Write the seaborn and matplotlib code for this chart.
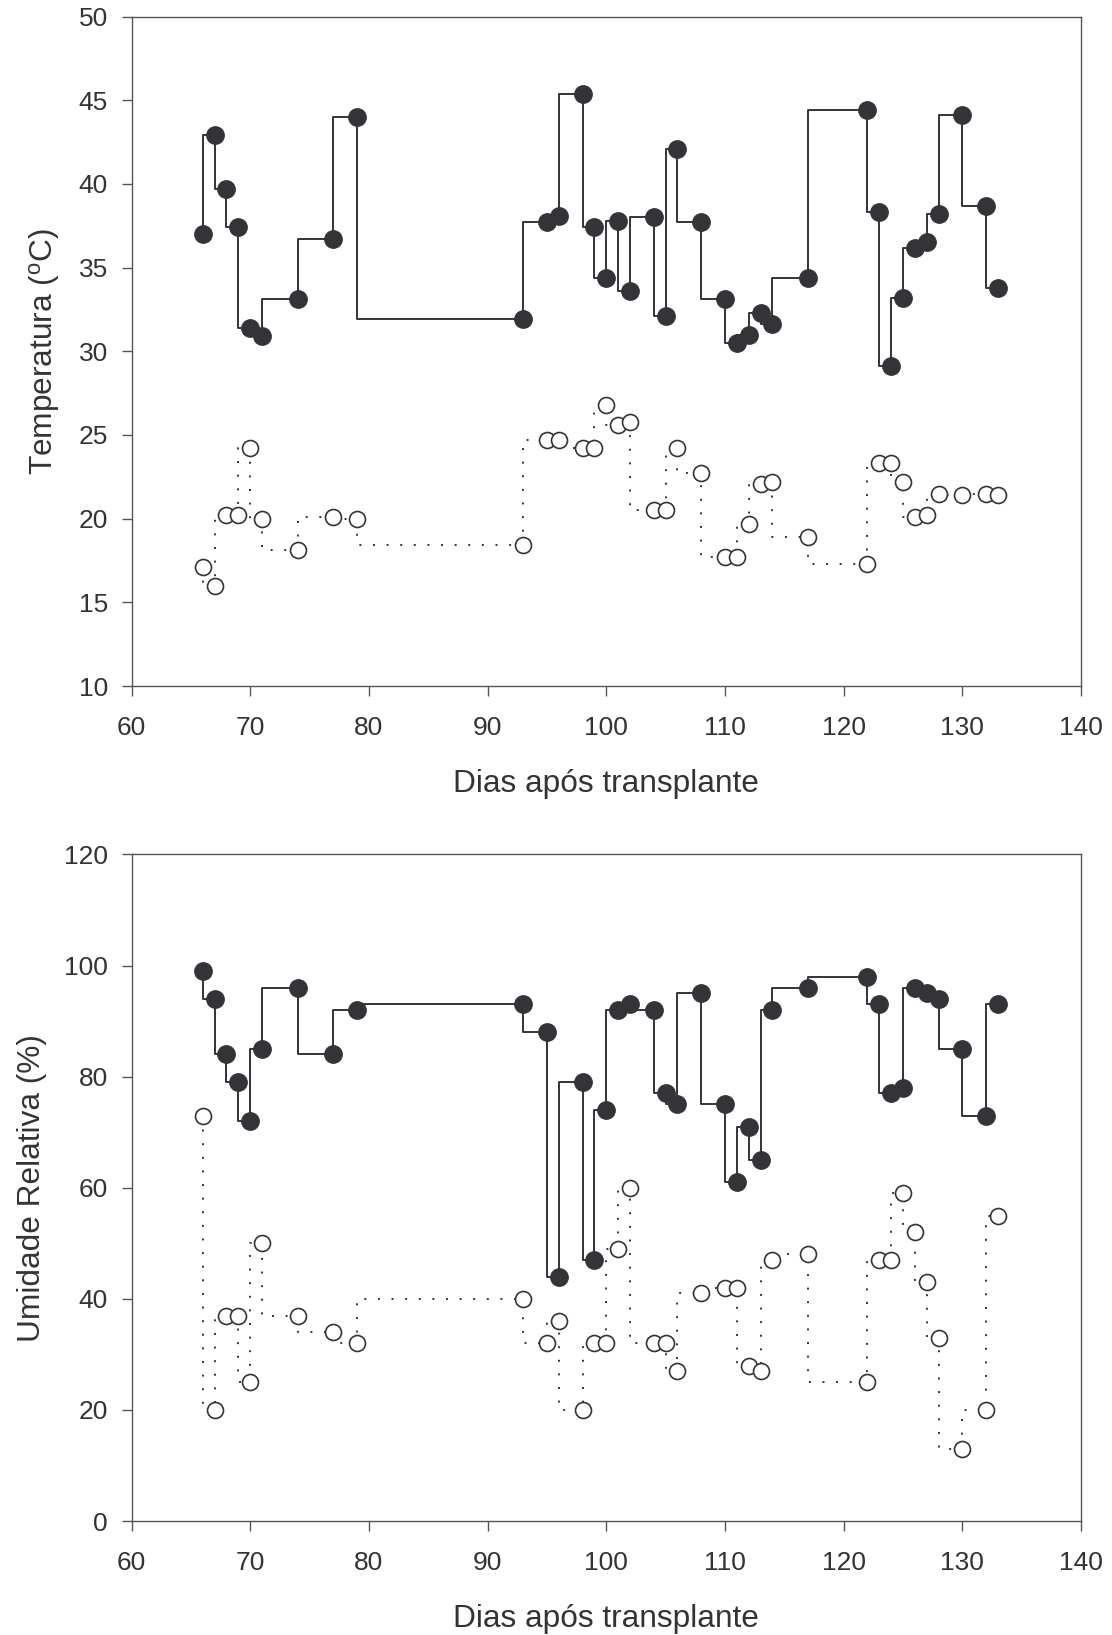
import matplotlib
matplotlib.use("Agg")
import matplotlib.pyplot as plt
import seaborn as sns
import pandas as pd

# ---- data ----
dias = [66, 67, 68, 69, 70, 71, 74, 77, 79, 93, 95, 96, 98, 99, 100, 101, 102,
        104, 105, 106, 108, 110, 111, 112, 113, 114, 117, 122, 123, 124, 125,
        126, 127, 128, 130, 132, 133]

temp_max = [37.0, 42.9, 39.7, 37.4, 31.4, 30.9, 33.1, 36.7, 44.0, 31.9, 37.7, 38.1,
            45.4, 37.4, 34.4, 37.8, 33.6, 38.0, 32.1, 42.1, 37.7, 33.1, 30.5, 31.0,
            32.3, 31.6, 34.4, 44.4, 38.3, 29.1, 33.2, 36.2, 36.5, 38.2, 44.1, 38.7, 33.8]

temp_min = [17.1, 16.0, 20.2, 20.2, 24.2, 20.0, 18.1, 20.1, 20.0, 18.4, 24.7, 24.7,
            24.2, 24.2, 26.8, 25.6, 25.8, 20.5, 20.5, 24.2, 22.7, 17.7, 17.7, 19.7,
            22.1, 22.2, 18.9, 17.3, 23.3, 23.3, 22.2, 20.1, 20.2, 21.5, 21.4, 21.5, 21.4]

ur_max = [99, 94, 84, 79, 72, 85, 96, 84, 92, 93, 88, 44, 79, 47, 74, 92, 93,
          92, 77, 75, 95, 75, 61, 71, 65, 92, 96, 98, 93, 77, 78, 96, 95, 94, 85, 73, 93]

ur_min = [73, 20, 37, 37, 25, 50, 37, 34, 32, 40, 32, 36, 20, 32, 32, 49, 60,
          32, 32, 27, 41, 42, 42, 28, 27, 47, 48, 25, 47, 47, 59, 52, 43, 33, 13, 20, 55]

x_ticks = [60, 70, 80, 90, 100, 110, 120, 130, 140]
temp_ticks = [10, 15, 20, 25, 30, 35, 40, 45, 50]
ur_ticks = [0, 20, 40, 60, 80, 100, 120]

df = pd.DataFrame({"dias": dias, "tmax": temp_max, "tmin": temp_min,
                   "urmax": ur_max, "urmin": ur_min})

# ---- style ----
sns.set_theme(style="ticks")
plt.rcParams["font.family"] = ["Liberation Sans", "DejaVu Sans"]
plt.rcParams["mathtext.fontset"] = "custom"
plt.rcParams["mathtext.rm"] = "Liberation Sans"
plt.rcParams["mathtext.it"] = "Liberation Sans"

TXT = "#333333"
LINE = "#333338"
SPINE = "#555555"

fig = plt.figure(figsize=(11.12, 16.35), dpi=100)
ax1 = fig.add_axes([0.1183, 0.5804, 0.8538, 0.4095])
ax2 = fig.add_axes([0.1183, 0.0697, 0.8538, 0.4077])


def draw(ax, ycol_open, ycol_fill):
    sns.lineplot(data=df, x="dias", y=ycol_open, ax=ax, drawstyle="steps-pre",
                 color=LINE, linewidth=1.4, linestyle=(0, (1, 6)),
                 marker="o", markersize=11.5, markerfacecolor="white",
                 markeredgecolor=LINE, markeredgewidth=1.2, zorder=3)
    sns.lineplot(data=df, x="dias", y=ycol_fill, ax=ax, drawstyle="steps-pre",
                 color=LINE, linewidth=1.4, linestyle="-",
                 marker="o", markersize=12.5, markerfacecolor=LINE,
                 markeredgecolor=LINE, markeredgewidth=1.0, zorder=4)


draw(ax1, "tmin", "tmax")
draw(ax2, "urmin", "urmax")

for ax, yt in ((ax1, temp_ticks), (ax2, ur_ticks)):
    ax.set_xlim(60, 140)
    ax.set_xticks(x_ticks)
    ax.set_ylim(yt[0], yt[-1])
    ax.set_yticks(yt)
    ax.tick_params(axis="both", which="major", direction="out", length=7,
                   width=1.0, color=SPINE, labelsize=19, labelcolor=TXT)
    ax.tick_params(axis="x", pad=14.5)
    ax.tick_params(axis="y", pad=10)
    for s in ax.spines.values():
        s.set_visible(True)
        s.set_color(SPINE)
        s.set_linewidth(1.0)
    ax.set_xlabel("Dias após transplante", fontsize=22.8, color=TXT, labelpad=21)

ax1.set_ylabel(r"Temperatura ($^{\rm o}$C)", fontsize=22.8, color=TXT, labelpad=12)
ax2.set_ylabel("Umidade Relativa (%)", fontsize=22.8, color=TXT, labelpad=12)

fig.savefig("out.png", dpi=100, facecolor="white")
